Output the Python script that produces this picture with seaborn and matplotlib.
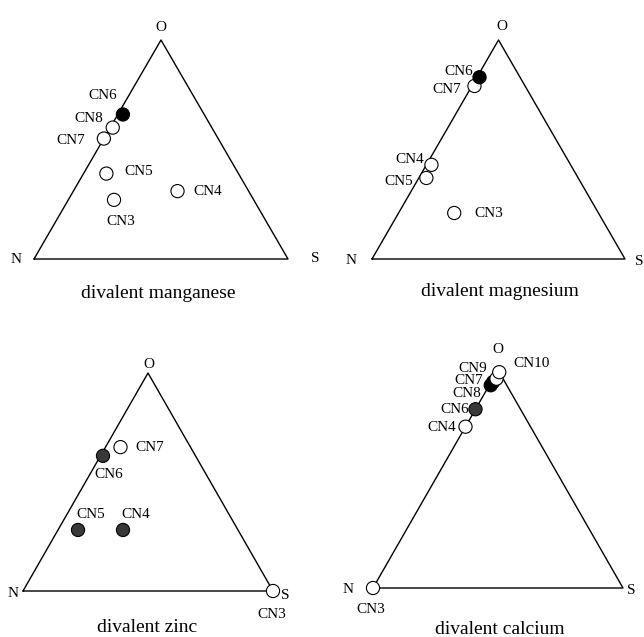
import pandas as pd
import matplotlib
matplotlib.use("Agg")
import matplotlib.pyplot as plt
import seaborn as sns

# ternary fractions (O, N, S)
mn_labels = ['CN3', 'CN4', 'CN5', 'CN7', 'CN8', 'CN6']
mn_O = [0.27, 0.31, 0.39, 0.55, 0.60, 0.66]
mn_N = [0.55, 0.28, 0.52, 0.45, 0.39, 0.32]
mn_S = [0.18, 0.41, 0.09, 0.00, 0.01, 0.02]
mn_fill = ['open', 'open', 'open', 'open', 'open', 'black']

mg_labels = ['CN3', 'CN4', 'CN5', 'CN7', 'CN6']
mg_O = [0.21, 0.43, 0.37, 0.79, 0.83]
mg_N = [0.57, 0.55, 0.60, 0.20, 0.16]
mg_S = [0.22, 0.02, 0.03, 0.01, 0.01]
mg_fill = ['open', 'open', 'open', 'open', 'black']

zn_labels = ['CN3', 'CN4', 'CN5', 'CN6', 'CN7']
zn_O = [0.00, 0.28, 0.28, 0.62, 0.66]
zn_N = [0.00, 0.46, 0.64, 0.37, 0.28]
zn_S = [1.00, 0.26, 0.08, 0.01, 0.06]
zn_fill = ['open', 'shade', 'shade', 'shade', 'open']

ca_labels = ['CN3', 'CN4', 'CN6', 'CN8', 'CN7', 'CN9', 'CN10']
ca_O = [0.00, 0.74, 0.82, 0.93, 0.945, 0.96, 0.99]
ca_N = [1.00, 0.26, 0.18, 0.064, 0.047, 0.026, 0.00]
ca_S = [0.00, 0.00, 0.00, 0.006, 0.008, 0.014, 0.01]
ca_fill = ['open', 'open', 'shade', 'black', 'black', 'open', 'open']

fill_colors = {'open': 'white', 'black': 'black', 'shade': '#383838'}

sns.set_theme(style="white")
plt.rcParams['font.family'] = ['Liberation Serif', 'DejaVu Serif']

W, H = 644, 637
fig = plt.figure(figsize=(W / 100, H / 100), dpi=100)

# frame in pixels: N x, S x, base y, apex y ; title centre
panels = [
    dict(title='divalent manganese', labels=mn_labels, O=mn_O, N=mn_N, S=mn_S, fill=mn_fill,
         frame=(34, 288, 259, 40), tpos=(158, 292),
         vert={'O': (0, -14), 'N': (-18, -1), 'S': (27, -2)},
         offs={'CN6': (-20, -20), 'CN8': (-24, -11), 'CN7': (-33, 0), 'CN5': (32, -4),
               'CN3': (7, 20), 'CN4': (30, -1)}),
    dict(title='divalent magnesium', labels=mg_labels, O=mg_O, N=mg_N, S=mg_S, fill=mg_fill,
         frame=(372, 625, 259, 40), tpos=(500, 290),
         vert={'O': (3, -15), 'N': (-21, 0), 'S': (14, 1)},
         offs={'CN6': (-21, -7), 'CN7': (-28, 2), 'CN4': (-22, -7), 'CN5': (-28, 2),
               'CN3': (35, -1)}),
    dict(title='divalent zinc', labels=zn_labels, O=zn_O, N=zn_N, S=zn_S, fill=zn_fill,
         frame=(23, 273, 591, 373), tpos=(147, 625),
         vert={'O': (1, -10), 'N': (-10, 1), 'S': (12, 3)},
         offs={'CN7': (29, -1), 'CN6': (6, 17), 'CN5': (13, -17), 'CN4': (13, -17),
               'CN3': (-1, 22)}),
    dict(title='divalent calcium', labels=ca_labels, O=ca_O, N=ca_N, S=ca_S, fill=ca_fill,
         frame=(373, 623, 588, 370), tpos=(500, 628),
         vert={'O': (0, -22), 'N': (-25, 0), 'S': (8, 1)},
         offs={'CN10': (32, -10), 'CN9': (-24, -12), 'CN7': (-24, -3), 'CN8': (-24, 7),
               'CN6': (-21, -1), 'CN4': (-24, -1), 'CN3': (-2, 20)}),
]

for p in panels:
    nx, sx, base, top = p['frame']
    ax = fig.add_axes([nx / W, 1 - base / H, (sx - nx) / W, (base - top) / H])
    ax.set_xlim(0, 1)
    ax.set_ylim(0, 1)
    ax.axis('off')

    # triangle outline: N (0,0), S (1,0), O (0.5,1)
    ax.plot([0, 1, 0.5, 0], [0, 0, 1, 0], color='black', lw=1.0, clip_on=False)

    df = pd.DataFrame({'label': p['labels'], 'O': p['O'], 'N': p['N'], 'S': p['S'], 'fill': p['fill']})
    df['x'] = df['S'] + df['O'] / 2
    df['y'] = df['O']

    sns.scatterplot(data=df, x='x', y='y', hue='fill', palette=fill_colors, s=90,
                    edgecolor='black', linewidth=0.8, legend=False, ax=ax,
                    clip_on=False, zorder=3)

    for _, r in df.iterrows():
        dx, dy = p['offs'][r['label']]
        ax.annotate(r['label'], (r['x'], r['y']), xytext=(dx * 0.72, -dy * 0.72),
                    textcoords='offset points', ha='center', va='center_baseline',
                    fontsize=11, color='black')

    for name, xy in zip(['N', 'S', 'O'], [(0, 0), (1, 0), (0.5, 1)]):
        dx, dy = p['vert'][name]
        ax.annotate(name, xy, xytext=(dx * 0.72, -dy * 0.72), textcoords='offset points',
                    ha='center', va='center_baseline', fontsize=11, color='black')

    ax.set_xlabel('')
    ax.set_ylabel('')
    fig.text(p['tpos'][0] / W, 1 - p['tpos'][1] / H, p['title'], ha='center',
             va='center_baseline', fontsize=14, color='black')

fig.savefig('out.png', dpi=100, facecolor='white')
